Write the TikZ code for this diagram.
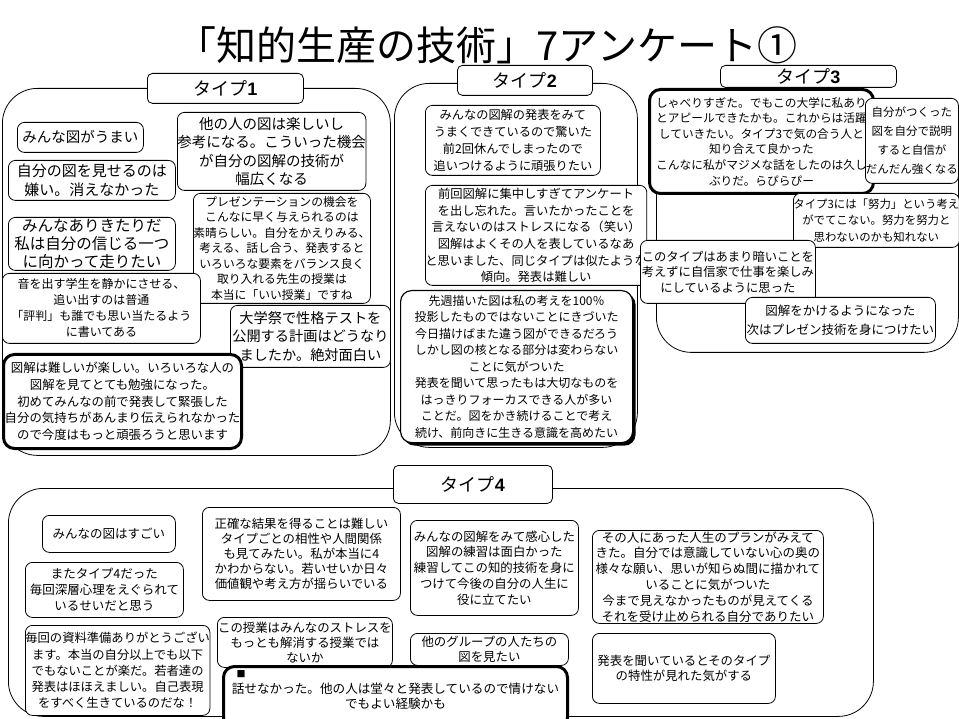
\documentclass[tikz,border=0pt]{standalone}
\usepackage{fontspec}
\setmainfont{Noto Sans CJK JP}
\newfontfamily\digitfont{Liberation Sans}
\usetikzlibrary{shadows}
\newcommand\myfs[2]{\fontsize{#1}{#2}\selectfont}
\newcommand\tnum[1]{{\digitfont\bfseries #1}}
\tikzset{
  box/.style={draw, fill=white, rounded corners=7pt, line width=0.8pt, inner sep=0pt, align=center, anchor=north west},
  boldbox/.style={box, line width=3pt, rounded corners=11pt},
  shadowbox/.style={box, line width=1.2pt, rounded corners=11pt, drop shadow={shadow xshift=3pt, shadow yshift=-3pt, fill=black, opacity=1}},
  cont/.style={draw, rounded corners=35pt, line width=0.8pt, inner sep=0pt, anchor=north west},
  typelabel/.style={box, rounded corners=5pt, font=\myfs{18}{20}},
}
\begin{document}
\begin{tikzpicture}[x=1pt, y=-1pt]
\useasboundingbox (0,0) rectangle (959,719);
\clip (0,0) rectangle (959,719);
\fill[white] (0,0) rectangle (959,719);
% title
\node[font=\myfs{40}{42}, inner sep=0pt] (title) at (487,45) {「知的生産の技術」7アンケート①};
% containers
\node[cont, minimum width=388pt, minimum height=367pt] (c1) at (2,88) {};
\node[cont, minimum width=243pt, minimum height=364pt] (c2) at (394,83) {};
\node[cont, minimum width=302pt, minimum height=252pt] (c3) at (656,100) {};
\node[cont, minimum width=865pt, minimum height=228pt] (c4) at (8,488) {};
% labels
\node[typelabel, minimum width=156pt, minimum height=30pt] (t1) at (147,73) {タイプ\tnum{1}};
\node[typelabel, minimum width=135pt, minimum height=30pt] (t2) at (457,65) {タイプ\tnum{2}};
\node[typelabel, minimum width=176pt, minimum height=22pt] (t3) at (720,65) {タイプ\tnum{3}};
\node[typelabel, minimum width=159pt, minimum height=38pt] (t4) at (393,465) {タイプ\tnum{4}};
% type 1
\node[box, minimum width=126pt, minimum height=30pt, font=\myfs{14.5}{18}] (a1) at (17,122) {みんな図がうまい};
\node[box, minimum width=183pt, minimum height=78pt, font=\myfs{14.5}{18.5}] (a2) at (177,112) {他の人の図は楽しいし\\参考になる。こういった機会\\が自分の図解の技術が\\幅広くなる};
\node[box, minimum width=167pt, minimum height=40pt, font=\myfs{15}{18.5}] (a3) at (8,160) {自分の図を見せるのは\\嫌い。消えなかった};
\node[box, minimum width=177pt, minimum height=110pt, font=\myfs{11.8}{15.5}] (a4) at (193,193) {プレゼンテーションの機会を\\こんなに早く与えられるのは\\素晴らしい。自分をかえりみる、\\考える、話し合う、発表すると\\いろいろな要素をバランス良く\\取り入れる先生の授業は\\本当に「いい授業」ですね};
\node[box, minimum width=167pt, minimum height=53pt, font=\myfs{15.5}{18}] (a5) at (8,217) {みんなありきたりだ\\私は自分の信じる一つ\\に向かって走りたい};
\node[box, minimum width=198pt, minimum height=70pt, font=\myfs{12}{16}] (a6) at (2,273) {音を出す学生を静かにさせる、\\追い出すのは普通\\「評判」も誰でも思い当たるよう\\に書いてある};
\node[box, minimum width=160pt, minimum height=62pt, font=\myfs{14.2}{18.5}] (a7) at (230,305) {大学祭で性格テストを\\公開する計画はどうなり\\ましたか。絶対面白い};
\node[boldbox, minimum width=238pt, minimum height=94pt, font=\myfs{12.4}{16.7}] (a8) at (2,353) {図解は難しいが楽しい。いろいろな人の\\図解を見てとても勉強になった。\\初めてみんなの前で発表して緊張した\\自分の気持ちがあんまり伝えられなかった\\ので今度はもっと頑張ろうと思います};
% type 2
\node[box, minimum width=175pt, minimum height=70pt, font=\myfs{12.2}{17}] (b1) at (425,105) {みんなの図解の発表をみて\\うまくできているので驚いた\\前2回休んでしまったので\\追いつけるように頑張りたい};
\node[box, minimum width=208pt, minimum height=100pt, font=\myfs{12.3}{16.7}] (b2) at (425,185) {前回図解に集中しすぎてアンケート\\を出し忘れた。言いたかったことを\\言えないのはストレスになる（笑い）\\図解はよくその人を表しているなあ\\と思いました、同じタイプは似たような\\傾向。発表は難しい};
\node[shadowbox, minimum width=232pt, minimum height=152pt, font=\myfs{12}{16.5}] (b3) at (400,290) {先週描いた図は私の考えを100％\\投影したものではないことにきづいた\\今日描けばまた違う図ができるだろう\\しかし図の核となる部分は変わらない\\ことに気がついた\\発表を聞いて思ったもは大切なものを\\はっきりフォーカスできる人が多い\\ことだ。図をかき続けることで考え\\続け、前向きに生きる意識を高めたい};
% type 3
\node[boldbox, minimum width=224pt, minimum height=104pt, font=\myfs{11.7}{15.6}] (d1) at (648,88) {しゃべりすぎた。でもこの大学に私あり\\とアピールできたかも。これからは活躍\\していきたい。タイプ3で気の合う人と\\知り合えて良かった\\こんなに私がマジメな話をしたのは久し\\ぶりだ。らぴらぴー};
\node[box, minimum width=93pt, minimum height=85pt, font=\myfs{11.5}{19}] (d2) at (865,98) {自分がつくった\\図を自分で説明\\すると自信が\\だんだん強くなる};
\node[box, minimum width=165pt, minimum height=54pt, font=\myfs{11.4}{16.5}] (d3) at (793,193) {タイプ3には「努力」という考え\\がでてこない。努力を努力と\\思わないのかも知れない};
\node[box, minimum width=175pt, minimum height=63pt, font=\myfs{12.3}{15.5}] (d4) at (640,240) {このタイプはあまり暗いことを\\考えずに自信家で仕事を楽しみ\\にしているように思った};
\node[box, minimum width=190pt, minimum height=46pt, font=\myfs{12.5}{19}] (d5) at (745,297) {図解をかけるようになった\\次はプレゼン技術を身につけたい};
% type 4
\node[box, minimum width=133pt, minimum height=37pt, font=\myfs{12.5}{16}] (e1) at (42,515) {みんなの図はすごい};
\node[box, minimum width=158pt, minimum height=55pt, font=\myfs{12.5}{16}] (e2) at (25,562) {またタイプ4だった\\毎回深層心理をえぐられて\\いるせいだと思う};
\node[box, minimum width=175pt, minimum height=90pt, font=\myfs{12.3}{16.3}] (e3) at (25,625) {毎回の資料準備ありがとうござい\\ます。本当の自分以上でも以下\\でもないことが楽だ。若者達の\\発表はほほえましい。自己表現\\をすべく生きているのだな！};
\node[box, minimum width=198pt, minimum height=93pt, font=\myfs{12.4}{15}] (e4) at (202,507) {正確な結果を得ることは難しい\\タイプごとの相性や人間関係\\も見てみたい。私が本当に4\\かわからない。若いせいか日々\\価値観や考え方が揺らいでいる};
\node[box, minimum width=175pt, minimum height=50pt, font=\myfs{12.4}{15}] (e5) at (217,617) {この授業はみんなのストレスを\\もっとも解消する授業では\\ないか};
\node[box, minimum width=168pt, minimum height=95pt, font=\myfs{12.4}{15.8}] (e6) at (410,520) {みんなの図解をみて感心した\\図解の練習は面白かった\\練習してこの知的技術を身に\\つけて今後の自分の人生に\\役に立てたい};
\node[box, minimum width=158pt, minimum height=32pt, font=\myfs{12.4}{14.5}] (e7) at (410,633) {他のグループの人たちの\\図を見たい};
\node[box, minimum width=231pt, minimum height=93pt, font=\myfs{12.5}{15.8}] (e8) at (592,530) {その人にあった人生のプランがみえて\\きた。自分では意識していない心の奥の\\様々な願い、思いが知らぬ間に描かれて\\いることに気がついた\\今まで見えなかったものが見えてくる\\それを受け止められる自分でありたい};
\node[box, minimum width=183pt, minimum height=70pt, font=\myfs{12.4}{15.5}] (e9) at (592,633) {発表を聞いているとそのタイプ\\の特性が見れた気がする};
\node[boldbox, minimum width=344pt, minimum height=62pt, font=\myfs{12.6}{15.5}] (e10) at (222,665) {\makebox[318pt][l]{\myfs{9}{15.5}■}\\話せなかった。他の人は堂々と発表しているので情けない\\でもよい経験かも\\ };
\end{tikzpicture}
\end{document}
